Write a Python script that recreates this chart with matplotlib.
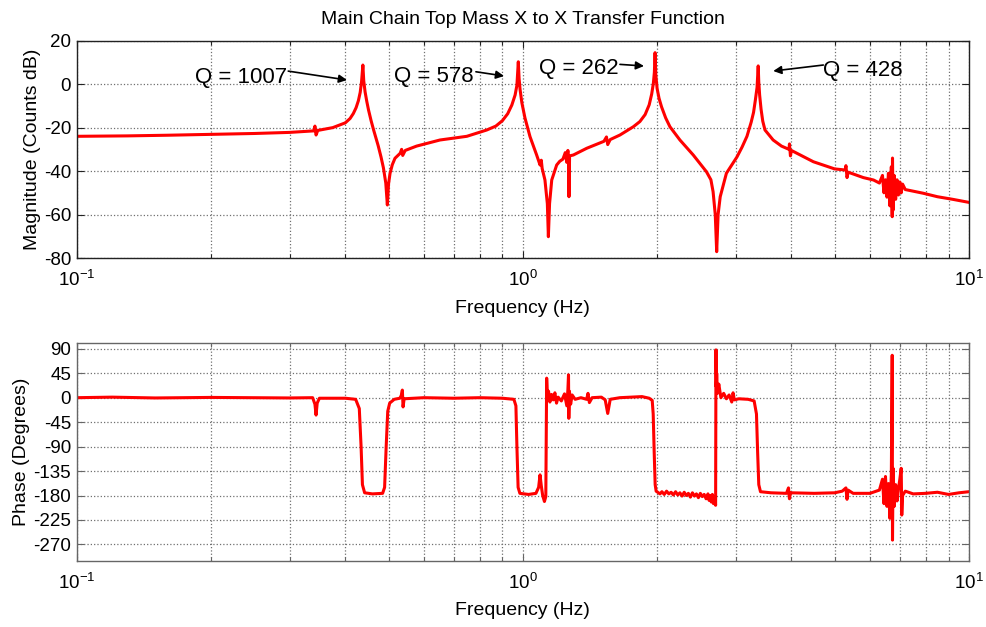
import numpy as np
import matplotlib
matplotlib.use('Agg')
import matplotlib.pyplot as plt
from matplotlib.ticker import LogLocator, NullFormatter, FixedLocator

plt.rcParams['font.family'] = ['Liberation Sans', 'DejaVu Sans']
plt.rcParams['axes.unicode_minus'] = False

# magnitude (Hz, dB)
mag_freq = [0.100, 0.130, 0.160, 0.200, 0.250, 0.300, 0.330, 0.340, 0.342, 0.344,
            0.347, 0.375, 0.400, 0.410, 0.417, 0.423, 0.428, 0.432, 0.435, 0.438,
            0.440, 0.443, 0.447, 0.451, 0.457, 0.463, 0.474, 0.481, 0.487, 0.493,
            0.497, 0.500, 0.504, 0.510, 0.517, 0.531, 0.535, 0.538, 0.545, 0.578,
            0.652, 0.749, 0.830, 0.870, 0.900, 0.925, 0.945, 0.961, 0.970, 0.977,
            0.981, 0.986, 0.995, 1.011, 1.038, 1.074, 1.093, 1.100, 1.105, 1.121,
            1.135, 1.141, 1.148, 1.161, 1.191, 1.210, 1.230, 1.245, 1.255, 1.262,
            1.266, 1.269, 1.273, 1.298, 1.391, 1.520, 1.540, 1.550, 1.570, 1.651,
            1.769, 1.830, 1.880, 1.920, 1.945, 1.962, 1.972, 1.979, 1.987, 2.000,
            2.020, 2.046, 2.090, 2.137, 2.250, 2.410, 2.580, 2.640, 2.670, 2.700,
            2.720, 2.740, 2.770, 2.860, 3.020, 3.100, 3.180, 3.250, 3.290, 3.320,
            3.350, 3.370, 3.380, 3.395, 3.420, 3.450, 3.490, 3.640, 3.800, 3.950,
            3.960, 3.980, 4.000, 4.480, 5.000, 5.280, 5.300, 5.330, 5.360, 5.800,
            6.110, 6.300, 6.400, 6.450, 6.500, 6.550, 6.600, 6.650, 6.700, 6.730,
            6.740, 6.760, 6.800, 6.850, 6.900, 6.950, 7.000, 7.050, 7.100, 7.200,
            7.900, 8.500, 9.200, 10.00]
mag_db = [-24.0, -23.8, -23.5, -23.1, -22.7, -22.2, -21.7, -21.5, -19.3, -23.4,
          -21.3, -20.0, -17.8, -15.8, -13.5, -10.8, -7.6, -3.8, 1.0, 8.8,
          1.5, -3.5, -8.0, -11.9, -16.8, -21.1, -28.3, -33.5, -38.5, -45.5,
          -55.6, -46.0, -41.0, -37.0, -34.1, -31.8, -30.0, -32.8, -30.5, -28.5,
          -25.7, -24.0, -21.1, -19.3, -16.8, -13.6, -9.6, -5.0, -0.5, 10.3,
          2.5, -2.5, -8.5, -15.5, -24.2, -32.6, -37.2, -35.0, -38.8, -44.1,
          -55.0, -70.2, -55.0, -44.1, -37.2, -35.5, -34.5, -31.5, -36.0, -30.5,
          -35.0, -51.8, -33.0, -32.6, -29.5, -26.3, -24.3, -27.8, -25.5, -23.4,
          -19.6, -17.2, -14.0, -9.5, -4.5, 0.5, 5.5, 14.5, 4.0, -2.0,
          -6.5, -10.4, -15.5, -19.6, -25.7, -32.6, -40.3, -44.0, -49.5, -60.0,
          -77.1, -60.0, -51.8, -41.0, -33.5, -29.0, -24.0, -17.5, -13.0, -7.5,
          -1.5, 8.4, 1.0, -5.0, -11.5, -17.0, -21.1, -25.7, -28.5, -30.0,
          -27.5, -33.0, -30.5, -35.7, -39.0, -39.5, -37.5, -43.0, -40.5, -43.0,
          -44.1, -45.5, -42.0, -50.0, -44.0, -52.0, -41.0, -56.0, -38.0, -61.0,
          -34.0, -58.0, -42.0, -53.0, -44.0, -51.0, -45.0, -50.0, -46.0, -48.5,
          -50.2, -51.8, -53.0, -54.4]

# phase (Hz, degrees)
phase_freq = [0.100, 0.120, 0.150, 0.200, 0.250, 0.300, 0.338, 0.342, 0.344, 0.346,
              0.350, 0.400, 0.422, 0.430, 0.434, 0.437, 0.442, 0.460, 0.485, 0.490,
              0.494, 0.498, 0.503, 0.515, 0.530, 0.534, 0.537, 0.539, 0.542, 0.600,
              0.700, 0.800, 0.900, 0.955, 0.965, 0.970, 0.976, 0.985, 1.030, 1.070,
              1.085, 1.093, 1.100, 1.108, 1.118, 1.126, 1.131, 1.136, 1.142, 1.150,
              1.160, 1.170, 1.180, 1.190, 1.200, 1.220, 1.240, 1.255, 1.262, 1.266,
              1.268, 1.272, 1.280, 1.290, 1.310, 1.350, 1.390, 1.400, 1.410, 1.430,
              1.500, 1.530, 1.550, 1.570, 1.650, 1.750, 1.850, 1.920, 1.950, 1.960,
              1.970, 1.980, 1.990, 2.030, 2.050, 2.075, 2.100, 2.125, 2.150, 2.175,
              2.200, 2.225, 2.250, 2.275, 2.300, 2.325, 2.350, 2.375, 2.400, 2.425,
              2.450, 2.475, 2.500, 2.525, 2.550, 2.575, 2.600, 2.615, 2.630, 2.645,
              2.660, 2.675, 2.690, 2.705, 2.710, 2.715, 2.720, 2.730, 2.750, 2.780,
              2.820, 2.860, 2.900, 2.940, 2.960, 2.980, 3.050, 3.200, 3.300, 3.340,
              3.360, 3.380, 3.410, 3.600, 3.900, 3.940, 3.960, 3.980, 4.500, 5.000,
              5.200, 5.300, 5.330, 5.360, 5.500, 6.000, 6.300, 6.400, 6.450, 6.500,
              6.550, 6.600, 6.650, 6.700, 6.730, 6.740, 6.760, 6.800, 6.850, 6.900,
              6.950, 7.000, 7.050, 7.070, 7.100, 7.200, 7.500, 8.000, 8.500, 9.000,
              9.500, 10.00]
phase_deg = [0, 1, -0.5, 0.5, 0, -0.5, 0, -12, -32, -10,
             -1, -1, -3, -20, -90, -160, -175, -177, -176, -165,
             -90, -25, -10, -3, -1, 4, 14, -17, -2, 0,
             -1, 0, -1, -3, -15, -90, -165, -176, -178, -176,
             -165, -142, -162, -180, -191, -182, 36, -5, 12, -8,
             6, -4, 9, -10, 1, -6, 7, -15, 15, 42,
             -38, 12, -12, 5, -3, 0, -3, 8, -9, 0,
             1, -4, -29, -3, 0, 1, 2, -1, -5, -30,
             -100, -160, -172, -177, -173, -178, -172, -177, -174, -179,
             -173, -179, -175, -181, -174, -180, -176, -183, -175, -181,
             -177, -184, -176, -182, -178, -186, -177, -189, -180, -192,
             -178, -195, -182, -198, 88, 20, 45, 8, 25, 0,
             8, -2, 5, -8, 9, -4, -2, -3, -6, -30,
             -100, -160, -173, -175, -176, -166, -186, -175, -176, -175,
             -172, -166, -187, -170, -176, -176, -170, -150, -195, -145,
             -200, -158, -222, -140, 78, -262, -130, -200, -160, -190,
             -168, -150, -130, -216, -180, -172, -177, -176, -174, -178,
             -175, -173]

q_labels = ['Q = 1007', 'Q = 578', 'Q = 262', 'Q = 428']

fig = plt.figure(figsize=(9.87, 6.27), dpi=100)
ax1 = fig.add_axes([0.0777, 0.5885, 0.904, 0.3466])
ax2 = fig.add_axes([0.0777, 0.1057, 0.904, 0.3467])


def style_axis(ax, edge):
    ax.set_xscale('log')
    ax.set_xlim(0.1, 10)
    ax.xaxis.set_major_locator(LogLocator(base=10))
    ax.xaxis.set_minor_locator(LogLocator(base=10, subs=np.arange(2, 10)))
    ax.xaxis.set_minor_formatter(NullFormatter())
    ax.grid(True, which='both', axis='x', ls=':', color='#707070', lw=0.9)
    ax.grid(True, which='major', axis='y', ls=':', color='#707070', lw=0.9)
    ax.set_axisbelow(True)
    ax.tick_params(which='both', direction='in', top=True, right=True,
                   labelsize=13.5, color=edge)
    ax.tick_params(which='major', length=5, width=0.8)
    ax.tick_params(which='minor', length=3, width=0.8)
    ax.tick_params(axis='y', pad=4)
    ax.tick_params(axis='x', pad=8.5)
    for sp in ax.spines.values():
        sp.set_color(edge)
        sp.set_linewidth(1.0)
    ax.set_xlabel('Frequency (Hz)', fontsize=14, labelpad=7)


# magnitude
ax1.plot(mag_freq, mag_db, color='#ff0000', lw=2.2)
style_axis(ax1, '#222222')
ax1.set_ylim(-80, 20)
ax1.yaxis.set_major_locator(FixedLocator(np.arange(-80, 21, 20)))
ax1.set_ylabel('Magnitude (Counts dB)', fontsize=14, labelpad=2)
ax1.set_title('Main Chain Top Mass X to X Transfer Function', fontsize=14, pad=12)

# Q annotations: text anchor, arrow tail, arrow head
arrow_style = dict(arrowstyle='-|>', color='k', lw=1.2,
                   shrinkA=0, shrinkB=0, mutation_scale=12)
ax1.text(0.296, 3.1, q_labels[0], fontsize=16, ha='right', va='center')
ax1.annotate('', xy=(0.4036, 1.9), xytext=(0.298, 6.0), arrowprops=arrow_style)
ax1.text(0.777, 3.5, q_labels[1], fontsize=16, ha='right', va='center')
ax1.annotate('', xy=(0.908, 3.75), xytext=(0.785, 5.7), arrowprops=arrow_style)
ax1.text(1.643, 7.3, q_labels[2], fontsize=16, ha='right', va='center')
ax1.annotate('', xy=(1.869, 8.35), xytext=(1.651, 9.1), arrowprops=arrow_style)
ax1.text(4.71, 6.5, q_labels[3], fontsize=16, ha='left', va='center')
ax1.annotate('', xy=(3.642, 6.05), xytext=(4.716, 8.8), arrowprops=arrow_style)

# phase
ax2.plot(phase_freq, phase_deg, color='#ff0000', lw=2.2)
style_axis(ax2, '#666666')
ax2.set_ylim(-300, 100)
ax2.yaxis.set_major_locator(FixedLocator(np.arange(-270, 91, 45)))
ax2.set_ylabel('Phase (Degrees)', fontsize=14, labelpad=2)
ax2.tick_params(axis='both', labelcolor='black')

fig.savefig('out.png', dpi=100, facecolor='white')
